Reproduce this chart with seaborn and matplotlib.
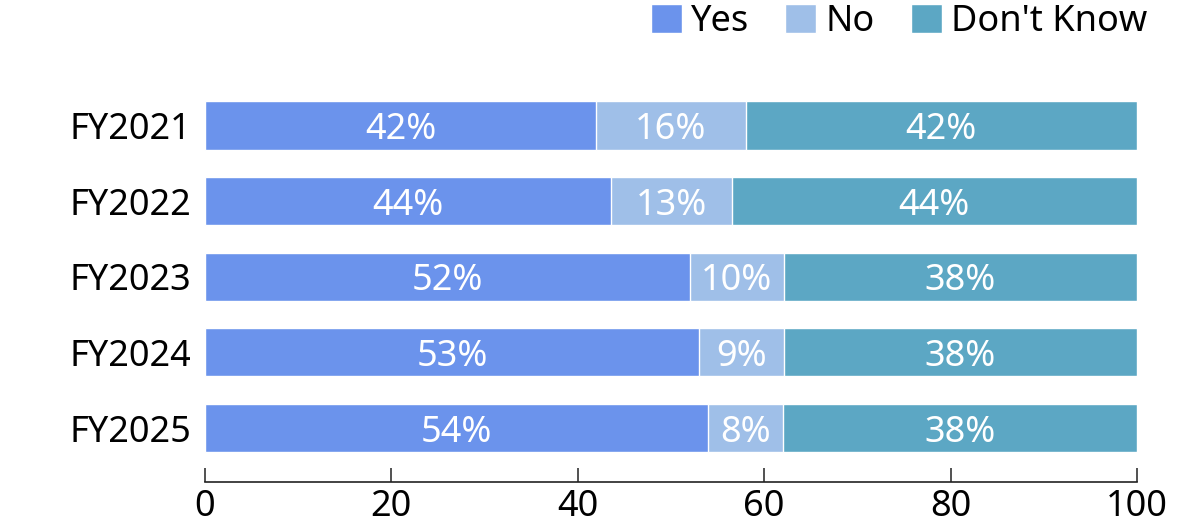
import pandas as pd
import seaborn as sns
import matplotlib.pyplot as plt
from matplotlib.patches import Patch

years = ['FY2021', 'FY2022', 'FY2023', 'FY2024', 'FY2025']
yes = [42, 43.6, 52, 53, 54]
no = [16, 12.9, 10.1, 9.1, 8]
dont_know = [42, 43.5, 37.9, 37.9, 38]
series = ['Yes', 'No', "Don't Know"]
colors = {'Yes': '#6b93ec', 'No': '#9fbfe8', "Don't Know": '#5ca7c4'}

sns.set_style('white')
plt.rcParams['font.family'] = ['Noto Sans', 'DejaVu Sans']
plt.rcParams['text.color'] = 'black'
plt.rcParams['xtick.color'] = 'black'
plt.rcParams['ytick.color'] = 'black'
FS = 26

df = pd.DataFrame({'year': years, 'Yes': yes, 'No': no, "Don't Know": dont_know})
df['end_yes'] = df['Yes']
df['end_no'] = df['end_yes'] + df['No']
df['end_dk'] = df['end_no'] + df["Don't Know"]

fig = plt.figure(figsize=(12, 5.2), dpi=100)
ax = fig.add_axes([0.1708, 0.073, 0.7767, 0.7895])

# stacked bars: draw cumulative totals back to front
for name, end in [("Don't Know", 'end_dk'), ('No', 'end_no'), ('Yes', 'end_yes')]:
    sns.barplot(data=df, x=end, y='year', orient='h', color=colors[name],
                width=0.635, saturation=1, ax=ax)

# white percentage labels in the middle of each segment
for i, row in df.iterrows():
    start = 0
    for name in series:
        v = row[name]
        ax.text(start + v / 2, i, f'{v:.0f}%', ha='center', va='center_baseline',
                color='white', fontsize=FS)
        start += v

ax.set_xlim(0, 100)
ax.set_ylim(4.714, -0.714)
ax.set_xticks([0, 20, 40, 60, 80, 100])
ax.set_xlabel('')
ax.set_ylabel('')
sns.despine(ax=ax, left=True)
ax.spines['bottom'].set_linewidth(1.2)
ax.spines['bottom'].set_color('#222222')
ax.tick_params(axis='x', bottom=True, direction='in', length=10, width=1.1,
               color='#222222', labelsize=FS, pad=5)
ax.tick_params(axis='y', left=False, length=0, labelsize=FS, pad=10)

handles = [Patch(facecolor=colors[s], label=s) for s in series]
fig.legend(handles=handles, loc='upper right', bbox_to_anchor=(1147 / 1200, 0.992),
           ncol=3, frameon=False, fontsize=FS, handlelength=0.86, handleheight=0.86,
           handletextpad=0.25, columnspacing=1.0, borderpad=0, borderaxespad=0)

fig.savefig('out.png', dpi=100)
